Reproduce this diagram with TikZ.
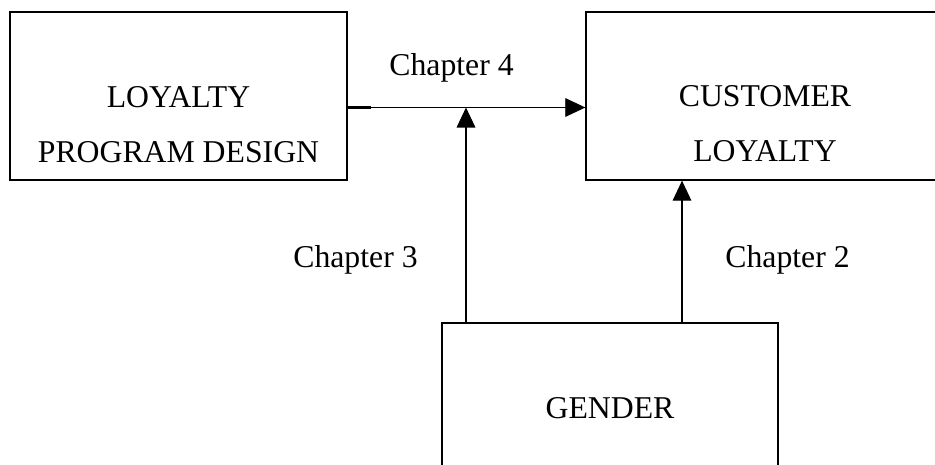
\documentclass[tikz,border=0pt]{standalone}
\usepackage{fontspec}
\setmainfont{Liberation Serif}
\usetikzlibrary{arrows.meta}
\begin{document}
\begin{tikzpicture}[
  x = 0.75pt, y = -0.75pt,
  box/.style = {draw, line width = 1pt, inner sep = 0pt},
  txt/.style = {font = \fontsize{23.8}{41}\selectfont, align = center, inner sep = 0pt},
  link/.style = {line width = 0.8pt, -{Triangle[length = 15pt, width = 14pt]}}
]
\useasboundingbox (0, 0) rectangle (935, 464);
\clip (0, 0) rectangle (935, 464);
% boxes (two of them run past the edge)
\node[box, minimum width = 337*0.75pt, minimum height = 168*0.75pt] (lpd) at (178.5, 96) {};
\node[box, minimum width = 358*0.75pt, minimum height = 168*0.75pt] (cust) at (765, 96) {};
\node[box, minimum width = 336*0.75pt, minimum height = 170*0.75pt] (gender) at (610, 408) {};
\node[txt] (lpdtxt) at (178.5, 124.5) {LOYALTY\\PROGRAM DESIGN};
\node[txt] (custtxt) at (765, 123.5) {CUSTOMER\\LOYALTY};
\node[txt] (gendertxt) at (610, 408) {GENDER};
% connectors
\coordinate (join) at (466, 107.5);
\coordinate (c2) at (682, 0);
\draw[line width = 1.6pt] (lpd.east |- join) -- ++(23, 0);
\draw[link, line width = 0.6pt] (lpd.east |- join) -- (cust.west |- join);
\draw[link] (gender.north -| join) -- (join);
\draw[link] (gender.north -| c2) -- (cust.south -| c2);
% chapter labels
\node[txt, anchor = base] (ch4) at (451.5, 75) {Chapter 4};
\node[txt, anchor = base] (ch3) at (355.5, 267) {Chapter 3};
\node[txt, anchor = base] (ch2) at (787.5, 267) {Chapter 2};
\end{tikzpicture}
\end{document}
